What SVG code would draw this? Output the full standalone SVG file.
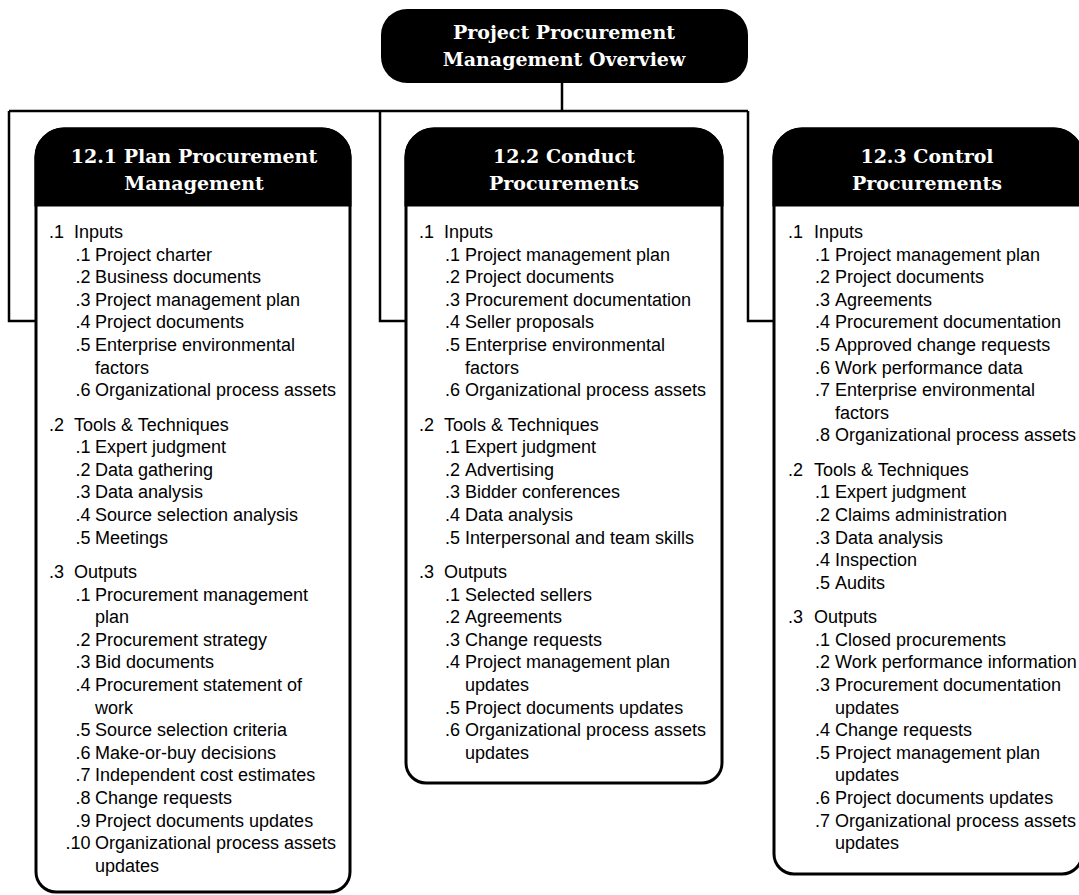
<svg xmlns="http://www.w3.org/2000/svg" width="1079" height="895" viewBox="0 0 1079 895">
<style>
.title{font-family:"DejaVu Serif","Liberation Serif",serif;font-weight:bold;font-size:19px;fill:#fff;text-anchor:middle}
.t{font-family:"Liberation Sans",Arial,sans-serif;font-size:18px;fill:#000}
.n{font-family:"Liberation Sans",Arial,sans-serif;font-size:18px;fill:#000;text-anchor:end}
.box{fill:#fff;stroke:#000;stroke-width:3}
.hdr{fill:#000;stroke:#000;stroke-width:3}
.conn{fill:none;stroke:#000;stroke-width:2.5}
</style>
<rect width="1079" height="895" fill="#fff"/>
<g id="connectors">
<path class="conn" d="M562,83 V111"/>
<path class="conn" d="M9,111 H748"/>
<path class="conn" d="M9,111 V321 H36"/>
<path class="conn" d="M380,111 V321 H406"/>
<path class="conn" d="M748,111 V321 H774"/>
</g>
<g id="root">
<rect x="381" y="9" width="367" height="74" rx="26" ry="26" fill="#000"/>
<text class="title" x="564" y="39">Project Procurement</text>
<text class="title" x="564" y="66">Management Overview</text>
</g>
<g id="plan">
<path class="box" d="M36,157 A28,28 0 0 1 64,129 H322 A28,28 0 0 1 350,157 V872 A20,20 0 0 1 330,892 H56 A20,20 0 0 1 36,872 Z"/>
<path class="hdr" d="M36,205 V157 A28,28 0 0 1 64,129 H322 A28,28 0 0 1 350,157 V205 Z"/>
<text class="title" x="194" y="163">12.1 Plan Procurement</text>
<text class="title" x="194" y="190">Management</text>
<text class="n" x="64" y="238">.1</text><text class="t" x="74" y="238">Inputs</text>
<text class="n" x="90.5" y="260.6">.1</text><text class="t" x="95" y="260.6">Project charter</text>
<text class="n" x="90.5" y="283.2">.2</text><text class="t" x="95" y="283.2">Business documents</text>
<text class="n" x="90.5" y="305.8">.3</text><text class="t" x="95" y="305.8">Project management plan</text>
<text class="n" x="90.5" y="328.4">.4</text><text class="t" x="95" y="328.4">Project documents</text>
<text class="n" x="90.5" y="351">.5</text><text class="t" x="95" y="351">Enterprise environmental</text>
<text class="t" x="95" y="373.6">factors</text>
<text class="n" x="90.5" y="396.2">.6</text><text class="t" x="95" y="396.2">Organizational process assets</text>
<text class="n" x="64" y="430.6">.2</text><text class="t" x="74" y="430.6">Tools &amp; Techniques</text>
<text class="n" x="90.5" y="453.2">.1</text><text class="t" x="95" y="453.2">Expert judgment</text>
<text class="n" x="90.5" y="475.8">.2</text><text class="t" x="95" y="475.8">Data gathering</text>
<text class="n" x="90.5" y="498.4">.3</text><text class="t" x="95" y="498.4">Data analysis</text>
<text class="n" x="90.5" y="521">.4</text><text class="t" x="95" y="521">Source selection analysis</text>
<text class="n" x="90.5" y="543.6">.5</text><text class="t" x="95" y="543.6">Meetings</text>
<text class="n" x="64" y="578">.3</text><text class="t" x="74" y="578">Outputs</text>
<text class="n" x="90.5" y="600.6">.1</text><text class="t" x="95" y="600.6">Procurement management</text>
<text class="t" x="95" y="623.2">plan</text>
<text class="n" x="90.5" y="645.8">.2</text><text class="t" x="95" y="645.8">Procurement strategy</text>
<text class="n" x="90.5" y="668.4">.3</text><text class="t" x="95" y="668.4">Bid documents</text>
<text class="n" x="90.5" y="691">.4</text><text class="t" x="95" y="691">Procurement statement of</text>
<text class="t" x="95" y="713.6">work</text>
<text class="n" x="90.5" y="736.2">.5</text><text class="t" x="95" y="736.2">Source selection criteria</text>
<text class="n" x="90.5" y="758.8">.6</text><text class="t" x="95" y="758.8">Make-or-buy decisions</text>
<text class="n" x="90.5" y="781.4">.7</text><text class="t" x="95" y="781.4">Independent cost estimates</text>
<text class="n" x="90.5" y="804">.8</text><text class="t" x="95" y="804">Change requests</text>
<text class="n" x="90.5" y="826.6">.9</text><text class="t" x="95" y="826.6">Project documents updates</text>
<text class="n" x="90.5" y="849.2">.10</text><text class="t" x="95" y="849.2">Organizational process assets</text>
<text class="t" x="95" y="871.8">updates</text>
</g>
<g id="conduct">
<path class="box" d="M406,157 A28,28 0 0 1 434,129 H694 A28,28 0 0 1 722,157 V763 A20,20 0 0 1 702,783 H426 A20,20 0 0 1 406,763 Z"/>
<path class="hdr" d="M406,205 V157 A28,28 0 0 1 434,129 H694 A28,28 0 0 1 722,157 V205 Z"/>
<text class="title" x="564" y="163">12.2 Conduct</text>
<text class="title" x="564" y="190">Procurements</text>
<text class="n" x="434" y="238">.1</text><text class="t" x="444" y="238">Inputs</text>
<text class="n" x="460" y="260.6">.1</text><text class="t" x="465" y="260.6">Project management plan</text>
<text class="n" x="460" y="283.2">.2</text><text class="t" x="465" y="283.2">Project documents</text>
<text class="n" x="460" y="305.8">.3</text><text class="t" x="465" y="305.8">Procurement documentation</text>
<text class="n" x="460" y="328.4">.4</text><text class="t" x="465" y="328.4">Seller proposals</text>
<text class="n" x="460" y="351">.5</text><text class="t" x="465" y="351">Enterprise environmental</text>
<text class="t" x="465" y="373.6">factors</text>
<text class="n" x="460" y="396.2">.6</text><text class="t" x="465" y="396.2">Organizational process assets</text>
<text class="n" x="434" y="430.6">.2</text><text class="t" x="444" y="430.6">Tools &amp; Techniques</text>
<text class="n" x="460" y="453.2">.1</text><text class="t" x="465" y="453.2">Expert judgment</text>
<text class="n" x="460" y="475.8">.2</text><text class="t" x="465" y="475.8">Advertising</text>
<text class="n" x="460" y="498.4">.3</text><text class="t" x="465" y="498.4">Bidder conferences</text>
<text class="n" x="460" y="521">.4</text><text class="t" x="465" y="521">Data analysis</text>
<text class="n" x="460" y="543.6">.5</text><text class="t" x="465" y="543.6">Interpersonal and team skills</text>
<text class="n" x="434" y="578">.3</text><text class="t" x="444" y="578">Outputs</text>
<text class="n" x="460" y="600.6">.1</text><text class="t" x="465" y="600.6">Selected sellers</text>
<text class="n" x="460" y="623.2">.2</text><text class="t" x="465" y="623.2">Agreements</text>
<text class="n" x="460" y="645.8">.3</text><text class="t" x="465" y="645.8">Change requests</text>
<text class="n" x="460" y="668.4">.4</text><text class="t" x="465" y="668.4">Project management plan</text>
<text class="t" x="465" y="691">updates</text>
<text class="n" x="460" y="713.6">.5</text><text class="t" x="465" y="713.6">Project documents updates</text>
<text class="n" x="460" y="736.2">.6</text><text class="t" x="465" y="736.2">Organizational process assets</text>
<text class="t" x="465" y="758.8">updates</text>
</g>
<g id="control">
<path class="box" d="M774,157 A28,28 0 0 1 802,129 H1054 A28,28 0 0 1 1082,157 V854 A20,20 0 0 1 1062,874 H794 A20,20 0 0 1 774,854 Z"/>
<path class="hdr" d="M774,205 V157 A28,28 0 0 1 802,129 H1054 A28,28 0 0 1 1082,157 V205 Z"/>
<text class="title" x="927" y="163">12.3 Control</text>
<text class="title" x="927" y="190">Procurements</text>
<text class="n" x="803" y="238">.1</text><text class="t" x="814" y="238">Inputs</text>
<text class="n" x="830" y="260.6">.1</text><text class="t" x="835" y="260.6">Project management plan</text>
<text class="n" x="830" y="283.2">.2</text><text class="t" x="835" y="283.2">Project documents</text>
<text class="n" x="830" y="305.8">.3</text><text class="t" x="835" y="305.8">Agreements</text>
<text class="n" x="830" y="328.4">.4</text><text class="t" x="835" y="328.4">Procurement documentation</text>
<text class="n" x="830" y="351">.5</text><text class="t" x="835" y="351">Approved change requests</text>
<text class="n" x="830" y="373.6">.6</text><text class="t" x="835" y="373.6">Work performance data</text>
<text class="n" x="830" y="396.2">.7</text><text class="t" x="835" y="396.2">Enterprise environmental</text>
<text class="t" x="835" y="418.8">factors</text>
<text class="n" x="830" y="441.4">.8</text><text class="t" x="835" y="441.4">Organizational process assets</text>
<text class="n" x="803" y="475.8">.2</text><text class="t" x="814" y="475.8">Tools &amp; Techniques</text>
<text class="n" x="830" y="498.4">.1</text><text class="t" x="835" y="498.4">Expert judgment</text>
<text class="n" x="830" y="521">.2</text><text class="t" x="835" y="521">Claims administration</text>
<text class="n" x="830" y="543.6">.3</text><text class="t" x="835" y="543.6">Data analysis</text>
<text class="n" x="830" y="566.2">.4</text><text class="t" x="835" y="566.2">Inspection</text>
<text class="n" x="830" y="588.8">.5</text><text class="t" x="835" y="588.8">Audits</text>
<text class="n" x="803" y="623.2">.3</text><text class="t" x="814" y="623.2">Outputs</text>
<text class="n" x="830" y="645.8">.1</text><text class="t" x="835" y="645.8">Closed procurements</text>
<text class="n" x="830" y="668.4">.2</text><text class="t" x="835" y="668.4">Work performance information</text>
<text class="n" x="830" y="691">.3</text><text class="t" x="835" y="691">Procurement documentation</text>
<text class="t" x="835" y="713.6">updates</text>
<text class="n" x="830" y="736.2">.4</text><text class="t" x="835" y="736.2">Change requests</text>
<text class="n" x="830" y="758.8">.5</text><text class="t" x="835" y="758.8">Project management plan</text>
<text class="t" x="835" y="781.4">updates</text>
<text class="n" x="830" y="804">.6</text><text class="t" x="835" y="804">Project documents updates</text>
<text class="n" x="830" y="826.6">.7</text><text class="t" x="835" y="826.6">Organizational process assets</text>
<text class="t" x="835" y="849.2">updates</text>
</g>
</svg>
